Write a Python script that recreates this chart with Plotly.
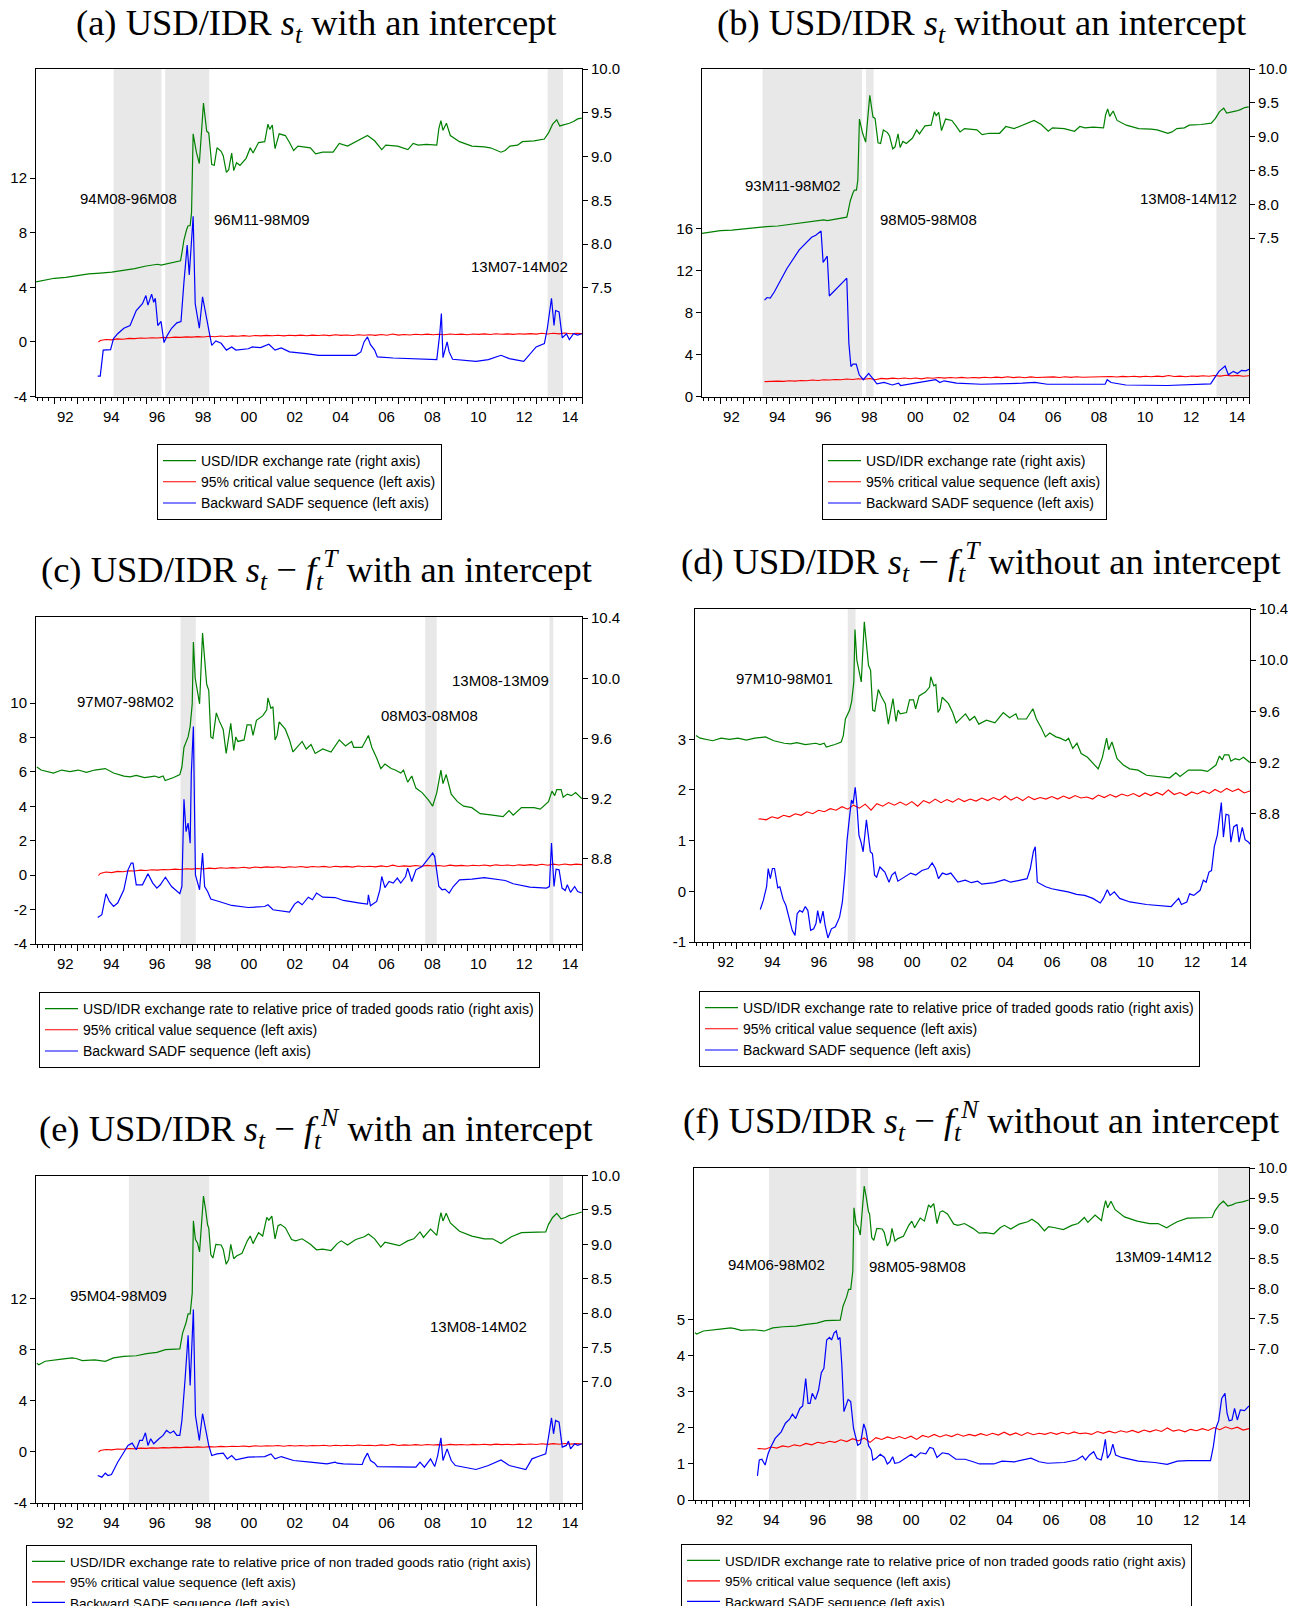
import plotly.graph_objects as go

W, H = 1297, 1606
X_RANGE = [1991.2, 2015.0]

# ---------------- data (decimal year, value) ----------------
GREEN_S = [(1991.2, 7.57), (1991.6, 7.59), (1992.0, 7.61), (1992.5, 7.62), (1993.0, 7.64), (1993.5, 7.66),
           (1994.0, 7.67), (1994.5, 7.68), (1995.0, 7.70), (1995.5, 7.72), (1996.0, 7.75), (1996.5, 7.77),
           (1996.65, 7.76), (1997.0, 7.78), (1997.5, 7.81), (1997.56, 7.90), (1997.65, 8.05), (1997.77, 8.17),
           (1997.83, 8.21), (1997.92, 8.21), (1997.98, 8.36), (1998.05, 9.26), (1998.19, 9.05), (1998.32, 8.92),
           (1998.5, 9.61), (1998.64, 9.29), (1998.73, 9.27), (1998.86, 8.91), (1998.97, 8.90), (1999.09, 9.10),
           (1999.27, 9.06), (1999.36, 9.01), (1999.5, 8.82), (1999.6, 8.85), (1999.73, 9.04), (1999.82, 8.84),
           (1999.94, 8.93), (2000.09, 8.90), (2000.36, 8.98), (2000.54, 9.10), (2000.66, 9.04), (2000.9, 9.16),
           (2001.17, 9.17), (2001.31, 9.37), (2001.39, 9.31), (2001.5, 9.36), (2001.62, 9.09), (2001.8, 9.26),
           (2002.07, 9.24), (2002.25, 9.16), (2002.43, 9.07), (2002.62, 9.12), (2002.89, 9.11), (2003.16, 9.10),
           (2003.39, 9.03), (2003.7, 9.05), (2004.15, 9.05), (2004.42, 9.15), (2004.78, 9.12), (2005.24, 9.18),
           (2005.65, 9.24), (2005.96, 9.18), (2006.27, 9.08), (2006.45, 9.13), (2006.96, 9.12), (2007.41, 9.08),
           (2007.64, 9.15), (2007.86, 9.13), (2008.22, 9.14), (2008.67, 9.13), (2008.76, 9.32), (2008.85, 9.41),
           (2008.94, 9.30), (2009.09, 9.38), (2009.26, 9.24), (2009.66, 9.17), (2010.2, 9.12), (2010.74, 9.11),
           (2011.0, 9.10), (2011.47, 9.05), (2011.65, 9.07), (2011.86, 9.12), (2012.19, 9.13), (2012.4, 9.17),
           (2012.91, 9.18), (2013.36, 9.20), (2013.54, 9.27), (2013.72, 9.37), (2013.9, 9.42), (2014.03, 9.35),
           (2014.21, 9.36), (2014.45, 9.38), (2014.63, 9.40), (2014.81, 9.43), (2014.99, 9.44)]

GREEN_T = [(1991.24, 9.41), (1991.42, 9.39), (1991.96, 9.37), (1992.32, 9.39), (1992.68, 9.38), (1993.04, 9.39),
           (1993.4, 9.375), (1993.76, 9.39), (1994.22, 9.40), (1994.58, 9.37), (1995.03, 9.35), (1995.3, 9.345),
           (1995.57, 9.355), (1995.93, 9.34), (1996.38, 9.35), (1996.56, 9.34), (1996.74, 9.35), (1996.83, 9.32),
           (1997.2, 9.34), (1997.47, 9.36), (1997.56, 9.41), (1997.65, 9.54), (1997.83, 9.61), (1997.92, 9.68),
           (1998.01, 9.83), (1998.06, 10.24), (1998.14, 10.0), (1998.24, 9.91), (1998.33, 9.83), (1998.46, 10.3),
           (1998.55, 10.14), (1998.64, 9.96), (1998.73, 9.92), (1998.82, 9.61), (1998.91, 9.60), (1999.06, 9.77),
           (1999.18, 9.72), (1999.36, 9.66), (1999.49, 9.50), (1999.6, 9.61), (1999.69, 9.70), (1999.82, 9.52),
           (1999.91, 9.61), (2000.0, 9.58), (2000.27, 9.59), (2000.4, 9.69), (2000.57, 9.69), (2000.66, 9.62),
           (2000.81, 9.72), (2001.08, 9.75), (2001.26, 9.79), (2001.31, 9.87), (2001.44, 9.80), (2001.53, 9.81),
           (2001.62, 9.59), (2001.71, 9.62), (2001.8, 9.71), (2002.07, 9.66), (2002.25, 9.59), (2002.4, 9.51),
           (2002.62, 9.55), (2002.8, 9.58), (2002.98, 9.53), (2003.19, 9.56), (2003.37, 9.50), (2003.7, 9.53),
           (2004.06, 9.51), (2004.42, 9.59), (2004.69, 9.55), (2004.96, 9.58), (2005.05, 9.54), (2005.41, 9.54),
           (2005.69, 9.62), (2005.84, 9.54), (2006.05, 9.47), (2006.23, 9.40), (2006.41, 9.43), (2006.68, 9.40),
           (2006.86, 9.39), (2007.1, 9.37), (2007.22, 9.39), (2007.4, 9.31), (2007.58, 9.35), (2007.76, 9.27),
           (2008.03, 9.24), (2008.31, 9.19), (2008.49, 9.15), (2008.67, 9.24), (2008.85, 9.39), (2008.94, 9.30),
           (2009.08, 9.36), (2009.3, 9.23), (2009.57, 9.18), (2009.84, 9.15), (2010.2, 9.14), (2010.56, 9.10),
           (2011.1, 9.09), (2011.56, 9.08), (2011.82, 9.12), (2012.0, 9.09), (2012.36, 9.14), (2012.91, 9.14),
           (2013.18, 9.13), (2013.54, 9.18), (2013.69, 9.25), (2013.81, 9.22), (2013.9, 9.26), (2014.09, 9.26),
           (2014.18, 9.21), (2014.36, 9.23), (2014.54, 9.22), (2014.72, 9.24), (2014.99, 9.20)]

GREEN_N = [(1991.24, 7.27), (1991.32, 7.25), (1991.6, 7.30), (1991.96, 7.32), (1992.32, 7.33), (1992.77, 7.35),
           (1992.95, 7.34), (1993.22, 7.31), (1993.76, 7.32), (1994.22, 7.30), (1994.58, 7.35), (1995.03, 7.37),
           (1995.57, 7.38), (1996.02, 7.41), (1996.47, 7.43), (1996.84, 7.47), (1997.2, 7.47), (1997.47, 7.48),
           (1997.59, 7.71), (1997.74, 7.86), (1997.83, 7.99), (1997.92, 7.99), (1998.01, 8.29), (1998.06, 9.34),
           (1998.15, 9.07), (1998.24, 9.02), (1998.33, 8.89), (1998.41, 9.27), (1998.5, 9.70), (1998.59, 9.51),
           (1998.68, 9.28), (1998.73, 9.24), (1998.82, 8.85), (1998.91, 8.80), (1999.04, 9.0), (1999.27, 8.99),
           (1999.36, 8.93), (1999.49, 8.71), (1999.6, 8.78), (1999.69, 9.0), (1999.82, 8.79), (1999.94, 8.83),
           (2000.18, 8.87), (2000.41, 9.05), (2000.54, 9.12), (2000.66, 9.01), (2000.9, 9.17), (2001.08, 9.12),
           (2001.26, 9.39), (2001.35, 9.35), (2001.48, 9.41), (2001.62, 9.08), (2001.75, 9.27), (2001.86, 9.29),
           (2002.07, 9.24), (2002.34, 9.07), (2002.52, 9.05), (2002.8, 9.08), (2003.16, 9.0), (2003.43, 8.92),
           (2003.7, 8.93), (2004.06, 8.91), (2004.33, 9.01), (2004.51, 9.05), (2004.78, 8.99), (2005.14, 9.07),
           (2005.51, 9.11), (2005.69, 9.15), (2005.96, 9.08), (2006.23, 8.96), (2006.41, 9.03), (2006.68, 9.01),
           (2007.04, 8.98), (2007.4, 9.05), (2007.67, 9.08), (2007.94, 9.18), (2008.09, 9.10), (2008.4, 9.22),
           (2008.67, 9.13), (2008.76, 9.31), (2008.85, 9.46), (2008.94, 9.34), (2009.08, 9.45), (2009.26, 9.31),
           (2009.66, 9.19), (2010.2, 9.12), (2010.74, 9.08), (2011.1, 9.08), (2011.47, 9.01), (2011.65, 9.05),
           (2011.92, 9.11), (2012.36, 9.17), (2012.91, 9.18), (2013.42, 9.18), (2013.54, 9.29), (2013.72, 9.39),
           (2013.9, 9.45), (2014.09, 9.37), (2014.27, 9.39), (2014.45, 9.42), (2014.72, 9.44), (2014.99, 9.47)]

CV_TIMES = [1993.92] + [1994.0 + 0.25 * i for i in range(85)]
CV_WITH = [-0.02, 0.10, 0.18, 0.15, 0.22, 0.20, 0.26, 0.24, 0.29, 0.27, 0.31, 0.29, 0.33, 0.31, 0.35, 0.33,
           0.37, 0.35, 0.39, 0.36, 0.41, 0.38, 0.43, 0.40, 0.44, 0.42, 0.46, 0.41, 0.47, 0.44, 0.48, 0.45,
           0.49, 0.44, 0.49, 0.46, 0.50, 0.45, 0.50, 0.47, 0.51, 0.46, 0.52, 0.48, 0.51, 0.47, 0.53, 0.49,
           0.52, 0.48, 0.54, 0.49, 0.58, 0.50, 0.54, 0.51, 0.56, 0.52, 0.57, 0.53, 0.56, 0.52, 0.58, 0.54,
           0.57, 0.53, 0.58, 0.55, 0.59, 0.54, 0.60, 0.56, 0.59, 0.55, 0.60, 0.57, 0.61, 0.57, 0.63, 0.58,
           0.64, 0.59, 0.65, 0.60, 0.64, 0.61]
CV_WITHOUT = [1.42, 1.43, 1.41, 1.47, 1.44, 1.50, 1.47, 1.53, 1.50, 1.57, 1.53, 1.60, 1.57, 1.63, 1.60, 1.67,
              1.62, 1.70, 1.64, 1.72, 1.60, 1.73, 1.68, 1.75, 1.70, 1.76, 1.70, 1.77, 1.68, 1.79, 1.74, 1.82,
              1.75, 1.81, 1.76, 1.83, 1.77, 1.82, 1.78, 1.84, 1.79, 1.85, 1.80, 1.88, 1.80, 1.86, 1.79, 1.87,
              1.81, 1.85, 1.82, 1.87, 1.82, 1.88, 1.83, 1.89, 1.84, 1.86, 1.82, 1.90, 1.85, 1.91, 1.86, 1.92,
              1.88, 1.93, 1.87, 1.94, 1.89, 1.95, 1.90, 2.00, 1.91, 1.95, 1.89, 1.96, 1.92, 1.98, 1.93, 2.01,
              1.95, 2.03, 1.97, 2.02, 1.94, 1.98]

BSADF_A = [(1993.89, -2.5), (1994.0, -2.5), (1994.13, -0.6), (1994.45, -0.56), (1994.58, 0.25), (1994.76, 0.6),
           (1995.03, 1.0), (1995.3, 1.2), (1995.57, 2.3), (1995.84, 2.8), (1995.99, 3.4), (1996.08, 2.7),
           (1996.24, 3.5), (1996.33, 2.9), (1996.4, 3.2), (1996.51, 1.2), (1996.65, 1.5), (1996.78, -0.05),
           (1996.93, 0.5), (1997.11, 1.0), (1997.34, 1.4), (1997.52, 1.5), (1997.65, 4.4), (1997.79, 7.1),
           (1997.88, 4.9), (1998.05, 9.2), (1998.14, 2.8), (1998.32, 1.0), (1998.46, 3.3), (1998.59, 2.2),
           (1998.73, 1.0), (1998.86, -0.25), (1999.04, 0.07), (1999.27, -0.1), (1999.5, -0.6), (1999.73, -0.37),
           (1999.91, -0.6), (2000.45, -0.5), (2000.63, -0.37), (2000.99, -0.42), (2001.35, -0.17), (2001.62, -0.6),
           (2001.89, -0.44), (2002.25, -0.73), (2002.98, -0.86), (2003.52, -0.98), (2004.24, -0.98), (2005.14, -0.98),
           (2005.36, -0.73), (2005.5, 0.0), (2005.65, 0.37), (2005.78, -0.2), (2005.96, -0.6), (2006.08, -1.1),
           (2006.77, -1.18), (2007.67, -1.22), (2008.67, -1.3), (2008.8, 0.6), (2008.87, 2.08), (2008.94, -1.15),
           (2009.12, 0.0), (2009.21, -0.73), (2009.36, -1.27), (2010.38, -1.42), (2010.92, -1.3), (2011.47, -0.98),
           (2011.83, -1.22), (2012.46, -1.42), (2012.73, -0.86), (2013.0, -0.37), (2013.36, -0.12), (2013.49, 1.0),
           (2013.67, 3.2), (2013.78, 1.2), (2013.85, 2.3), (2014.0, 2.2), (2014.14, 0.3), (2014.32, 0.6),
           (2014.45, 0.17), (2014.63, 0.6), (2014.81, 0.5), (2014.99, 0.6)]

BSADF_B = [(1993.92, 9.2), (1994.03, 9.45), (1994.17, 9.4), (1994.35, 10.0), (1994.89, 12.2), (1995.43, 14.0),
           (1995.97, 15.2), (1996.15, 15.4), (1996.38, 15.8), (1996.47, 12.8), (1996.65, 13.4), (1996.74, 9.6),
           (1997.5, 11.3), (1997.59, 5.1), (1997.68, 2.86), (1997.77, 3.1), (1997.91, 3.1), (1998.04, 2.07),
           (1998.22, 1.6), (1998.45, 2.2), (1998.67, 1.6), (1998.81, 1.2), (1999.12, 1.34), (1999.48, 1.1),
           (1999.75, 1.27), (1999.84, 1.05), (2000.47, 1.27), (2000.92, 1.43), (2001.37, 1.6), (2001.55, 1.34),
           (2001.73, 1.5), (2002.27, 1.27), (2003.35, 1.17), (2005.14, 1.27), (2005.68, 1.34), (2006.22, 1.17),
           (2008.74, 1.17), (2008.83, 1.6), (2009.0, 1.34), (2009.64, 1.1), (2011.44, 1.05), (2013.33, 1.2),
           (2013.69, 2.4), (2013.96, 2.9), (2014.1, 2.07), (2014.32, 2.4), (2014.5, 2.2), (2014.68, 2.5),
           (2014.86, 2.45), (2015.0, 2.6)]

BSADF_C = [(1993.89, -2.46), (1994.07, -2.3), (1994.25, -1.08), (1994.4, -1.53), (1994.58, -1.82), (1994.76, -1.62),
           (1995.03, -0.85), (1995.21, 0.31), (1995.35, 0.7), (1995.43, 0.7), (1995.57, -0.56), (1995.84, -0.56),
           (1996.08, 0.08), (1996.29, -0.46), (1996.47, -0.75), (1996.62, -0.56), (1996.84, -0.12), (1997.11, -0.66),
           (1997.47, -1.08), (1997.56, -0.66), (1997.65, 4.41), (1997.74, 2.53), (1997.83, 3.02), (1997.92, 1.86),
           (1997.97, 5.9), (1998.06, 8.63), (1998.15, 0.02), (1998.33, -0.85), (1998.46, 1.28), (1998.55, -0.66),
           (1998.68, -0.95), (1998.82, -1.39), (1999.18, -1.53), (1999.73, -1.76), (2000.45, -1.88), (2001.17, -1.82),
           (2001.31, -1.72), (2001.53, -2.01), (2002.25, -2.15), (2002.47, -1.68), (2002.62, -1.53), (2002.8, -1.72),
           (2003.07, -1.28), (2003.25, -1.43), (2003.43, -1.04), (2003.7, -1.28), (2004.24, -1.3), (2004.6, -1.47),
           (2005.32, -1.62), (2005.65, -1.68), (2005.69, -1.14), (2005.78, -1.78), (2006.05, -1.53), (2006.19, -0.85),
           (2006.27, -0.08), (2006.41, -0.72), (2006.59, -0.37), (2006.77, -0.46), (2006.95, -0.17), (2007.1, -0.46),
           (2007.31, -0.08), (2007.4, 0.41), (2007.58, -0.37), (2007.76, 0.31), (2008.03, 0.5), (2008.31, 0.99),
           (2008.49, 1.28), (2008.58, 1.08), (2008.76, -0.66), (2008.9, -0.85), (2009.03, -0.81), (2009.21, -1.04),
           (2009.39, -0.66), (2009.66, -0.27), (2010.2, -0.23), (2010.74, -0.14), (2011.29, -0.23), (2011.65, -0.31),
           (2012.0, -0.5), (2012.73, -0.7), (2013.45, -0.75), (2013.58, -0.66), (2013.67, 1.86), (2013.78, -0.66),
           (2013.87, 0.35), (2014.0, 0.31), (2014.13, -0.75), (2014.27, -0.89), (2014.36, -0.56), (2014.5, -1.0),
           (2014.68, -0.66), (2014.81, -0.95), (2014.99, -1.04)]

BSADF_D = [(1994.0, -0.36), (1994.13, -0.18), (1994.27, 0.09), (1994.34, 0.45), (1994.43, 0.25), (1994.52, 0.45),
           (1994.61, 0.45), (1994.75, 0.07), (1994.84, 0.09), (1994.98, -0.16), (1995.1, -0.28), (1995.28, -0.64),
           (1995.37, -0.77), (1995.49, -0.87), (1995.58, -0.44), (1995.69, -0.38), (1995.81, -0.41), (1995.93, -0.3),
           (1996.04, -0.38), (1996.16, -0.77), (1996.29, -0.74), (1996.39, -0.63), (1996.46, -0.38), (1996.57, -0.63),
           (1996.69, -0.39), (1996.78, -0.67), (1996.9, -0.92), (1997.05, -0.74), (1997.22, -0.7), (1997.4, -0.51),
           (1997.52, -0.21), (1997.63, 0.35), (1997.72, 1.0), (1997.81, 1.4), (1997.91, 1.8), (1997.98, 1.73),
           (1998.07, 2.05), (1998.14, 1.73), (1998.23, 1.11), (1998.32, 0.97), (1998.41, 0.78), (1998.55, 1.41),
           (1998.64, 1.0), (1998.72, 0.78), (1998.81, 0.74), (1998.9, 0.32), (1998.99, 0.28), (1999.13, 0.48),
           (1999.34, 0.38), (1999.52, 0.18), (1999.64, 0.32), (1999.78, 0.38), (1999.9, 0.2), (2000.13, 0.27),
           (2000.45, 0.36), (2000.67, 0.32), (2000.93, 0.41), (2001.2, 0.45), (2001.37, 0.56), (2001.51, 0.45),
           (2001.64, 0.25), (2001.81, 0.36), (2001.99, 0.33), (2002.17, 0.36), (2002.47, 0.18), (2002.79, 0.22),
           (2003.05, 0.17), (2003.32, 0.2), (2003.5, 0.14), (2004.03, 0.17), (2004.47, 0.23), (2004.73, 0.18),
           (2005.17, 0.23), (2005.44, 0.25), (2005.58, 0.45), (2005.71, 0.78), (2005.79, 0.88), (2005.88, 0.18),
           (2006.24, 0.09), (2006.5, 0.05), (2006.85, 0.02), (2007.2, -0.01), (2007.56, -0.06), (2007.91, -0.08),
           (2008.26, -0.14), (2008.58, -0.23), (2008.71, -0.14), (2008.88, 0.03), (2009.0, -0.08), (2009.18, -0.01),
           (2009.41, -0.14), (2009.85, -0.21), (2010.56, -0.26), (2011.27, -0.28), (2011.62, -0.3), (2011.8, -0.21),
           (2011.94, -0.14), (2012.06, -0.26), (2012.29, -0.21), (2012.41, -0.05), (2012.59, -0.08), (2012.86, 0.02),
           (2013.0, 0.22), (2013.12, 0.18), (2013.24, 0.38), (2013.35, 0.41), (2013.47, 0.88), (2013.6, 1.11),
           (2013.77, 1.75), (2013.86, 1.07), (2013.97, 1.52), (2014.09, 1.5), (2014.18, 0.97), (2014.3, 1.27),
           (2014.44, 1.32), (2014.53, 0.97), (2014.67, 1.26), (2014.79, 1.02), (2014.94, 0.97), (2015.0, 0.93)]

BSADF_E = [(1993.89, -1.85), (1994.07, -1.98), (1994.22, -1.67), (1994.34, -1.85), (1994.49, -1.77), (1994.76, -0.81),
           (1995.03, -0.03), (1995.21, 0.5), (1995.39, 0.68), (1995.57, 0.16), (1995.72, 0.89), (1995.84, 0.89),
           (1995.97, 1.49), (1996.08, 0.5), (1996.2, 1.02), (1996.33, 0.63), (1996.56, 1.02), (1996.74, 1.28),
           (1996.89, 1.67), (1997.05, 1.46), (1997.2, 1.62), (1997.34, 1.28), (1997.47, 1.28), (1997.56, 2.45),
           (1997.7, 5.72), (1997.83, 9.11), (1997.92, 5.19), (1998.06, 11.12), (1998.15, 2.85), (1998.32, 0.89),
           (1998.46, 2.98), (1998.59, 1.8), (1998.73, 0.5), (1998.86, -0.29), (1999.09, -0.16), (1999.36, -0.1),
           (1999.54, -0.55), (1999.73, -0.29), (1999.91, -0.63), (2000.45, -0.42), (2000.81, -0.37), (2001.17, -0.37),
           (2001.44, -0.16), (2001.62, -0.55), (2001.89, -0.37), (2002.43, -0.68), (2003.16, -0.81), (2003.88, -0.94),
           (2004.24, -0.81), (2004.33, -0.89), (2004.6, -0.94), (2005.42, -0.99), (2005.51, -0.55), (2005.65, -0.1),
           (2005.78, -0.68), (2005.96, -0.89), (2006.08, -1.15), (2006.95, -1.2), (2007.76, -1.2), (2007.94, -0.81),
           (2008.13, -1.2), (2008.4, -0.55), (2008.58, -1.15), (2008.71, -0.29), (2008.85, 1.1), (2008.94, -0.68),
           (2009.12, 0.23), (2009.3, -0.68), (2009.48, -1.07), (2010.38, -1.38), (2010.92, -1.07), (2011.47, -0.63),
           (2011.83, -1.07), (2012.55, -1.38), (2012.82, -0.55), (2013.09, -0.37), (2013.42, -0.16), (2013.54, 1.15),
           (2013.67, 2.66), (2013.76, 1.41), (2013.85, 2.45), (2014.0, 2.32), (2014.14, 0.37), (2014.32, 0.5),
           (2014.41, 0.84), (2014.5, 0.23), (2014.68, 0.63), (2014.81, 0.5), (2014.99, 0.63)]

BSADF_F = [(1993.92, 0.67), (1994.0, 1.11), (1994.11, 1.13), (1994.25, 0.97), (1994.38, 1.29), (1994.5, 1.48),
           (1994.68, 1.71), (1994.94, 1.89), (1995.12, 2.13), (1995.3, 2.24), (1995.42, 2.38), (1995.56, 2.26),
           (1995.74, 2.54), (1995.86, 2.61), (1995.99, 3.37), (1996.09, 2.68), (1996.18, 2.68), (1996.27, 2.96),
           (1996.41, 2.79), (1996.54, 3.05), (1996.66, 3.53), (1996.77, 3.65), (1996.89, 4.44), (1997.01, 4.51),
           (1997.1, 4.44), (1997.21, 4.64), (1997.3, 4.69), (1997.38, 4.45), (1997.46, 4.51), (1997.54, 3.74),
           (1997.63, 2.45), (1997.72, 2.63), (1997.81, 2.79), (1997.92, 2.73), (1998.04, 1.99), (1998.22, 1.52),
           (1998.34, 1.57), (1998.48, 2.11), (1998.57, 1.94), (1998.69, 1.5), (1998.8, 1.39), (1998.87, 1.11),
           (1999.01, 1.16), (1999.19, 1.27), (1999.37, 1.18), (1999.49, 1.0), (1999.6, 1.06), (1999.72, 1.2),
           (1999.81, 1.02), (1999.99, 1.04), (2000.25, 1.16), (2000.52, 1.27), (2000.69, 1.18), (2000.91, 1.31),
           (2001.14, 1.28), (2001.31, 1.46), (2001.46, 1.43), (2001.62, 1.18), (2001.85, 1.31), (2002.11, 1.28),
           (2002.43, 1.13), (2002.82, 1.13), (2003.17, 1.06), (2003.44, 1.0), (2004.06, 1.0), (2004.41, 1.08),
           (2004.94, 1.06), (2005.65, 1.16), (2006.0, 1.06), (2006.36, 1.02), (2007.07, 1.04), (2007.6, 1.11),
           (2007.86, 1.22), (2007.99, 1.11), (2008.16, 1.25), (2008.34, 1.34), (2008.48, 1.16), (2008.66, 1.11),
           (2008.75, 1.34), (2008.84, 1.68), (2008.93, 1.16), (2009.05, 1.28), (2009.16, 1.55), (2009.28, 1.25),
           (2009.54, 1.18), (2010.25, 1.08), (2010.96, 1.04), (2011.49, 0.99), (2011.93, 1.08), (2012.38, 1.09),
           (2013.35, 1.09), (2013.47, 1.48), (2013.58, 1.99), (2013.7, 2.2), (2013.83, 2.82), (2013.97, 2.96),
           (2014.06, 2.4), (2014.15, 2.2), (2014.27, 2.22), (2014.38, 2.54), (2014.5, 2.22), (2014.63, 2.5),
           (2014.81, 2.48), (2015.0, 2.61)]

LEG_S = ["USD/IDR exchange rate (right axis)", "95% critical value sequence (left axis)",
         "Backward SADF sequence (left axis)"]
LEG_T = ["USD/IDR exchange rate to relative price of traded goods ratio (right axis)",
         "95% critical value sequence (left axis)", "Backward SADF sequence (left axis)"]
LEG_N = ["USD/IDR exchange rate to relative price of non traded goods ratio (right axis)",
         "95% critical value sequence (left axis)", "Backward SADF sequence (left axis)"]

ST = "<i>s</i><sub><i>t</i></sub>"
FT = "<i>f</i><sub><i>t</i></sub><sup><i>T</i></sup>"
FN = "<i>f</i><sub><i>t</i></sub><sup><i>N</i></sup>"

PANELS = [
    dict(title=f"(a) USD/IDR {ST} with an intercept", tpos=(316, 26),
         frame=(36, 582, 69, 396.5), lrange=[-4, 20], lticks=[-4, 0, 4, 8, 12],
         rrange=[6.26, 10.0], rticks=[7.5, 8.0, 8.5, 9.0, 9.5, 10.0],
         green=GREEN_S, cv=CV_WITH, blue=BSADF_A, legend=LEG_S, lpos=(157, 444), lfont=14,
         shades=[("94M08", "96M08"), ("96M11", "98M09"), ("13M07", "14M02")],
         labels=[("94M08-96M08", 1995.23, 10.5), ("96M11-98M09", 2001.06, 9.0), ("13M07-14M02", 2012.28, 5.51)]),
    dict(title=f"(b) USD/IDR {ST} without an intercept", tpos=(981, 26),
         frame=(702, 1249, 69, 396.5), lrange=[0, 31.27], lticks=[0, 4, 8, 12, 16],
         rrange=[5.16, 10.0], rticks=[7.5, 8.0, 8.5, 9.0, 9.5, 10.0],
         green=GREEN_S, cv=CV_WITHOUT, blue=BSADF_B, legend=LEG_S, lpos=(822, 444), lfont=14,
         shades=[("93M11", "98M02"), ("98M05", "98M08"), ("13M08", "14M12")],
         labels=[("93M11-98M02", 1995.16, 20.13), ("98M05-98M08", 2001.06, 16.86), ("13M08-14M12", 2012.36, 18.86)]),
    dict(title=f"(c) USD/IDR {ST} − {FT} with an intercept", tpos=(316, 570),
         frame=(36, 582, 617, 944), lrange=[-4, 15.0], lticks=[-4, -2, 0, 2, 4, 6, 8, 10],
         rrange=[8.234, 10.407], rticks=[8.8, 9.2, 9.6, 10.0, 10.4],
         green=GREEN_T, cv=CV_WITH, blue=BSADF_C, legend=LEG_T, lpos=(39, 992), lfont=14,
         shades=[("97M07", "98M02"), ("08M03", "08M08"), ("13M08", "13M09")],
         labels=[("97M07-98M02", 1995.08, 10.08), ("08M03-08M08", 2008.34, 9.25), ("13M08-13M09", 2011.45, 11.3)]),
    dict(title=f"(d) USD/IDR {ST} − {FT} without an intercept", tpos=(981, 562),
         frame=(695, 1250, 609, 942), lrange=[-1, 5.57], lticks=[-1, 0, 1, 2, 3],
         rrange=[7.796, 10.4], rticks=[8.8, 9.2, 9.6, 10.0, 10.4],
         green=GREEN_T, cv=CV_WITHOUT, blue=BSADF_D, legend=LEG_T, lpos=(699, 991), lfont=14,
         shades=[("97M10", "98M01")],
         labels=[("97M10-98M01", 1995.05, 4.2)]),
    dict(title=f"(e) USD/IDR {ST} − {FN} with an intercept", tpos=(316, 1129),
         frame=(36, 582, 1175.5, 1503), lrange=[-4, 21.6], lticks=[-4, 0, 4, 8, 12],
         rrange=[5.24, 10.0], rticks=[7.0, 7.5, 8.0, 8.5, 9.0, 9.5, 10.0],
         green=GREEN_N, cv=CV_WITH, blue=BSADF_E, legend=LEG_N, lpos=(26, 1545), lfont=13.5,
         shades=[("95M04", "98M09"), ("13M08", "14M02")],
         labels=[("95M04-98M09", 1994.81, 12.24), ("13M08-14M02", 2010.47, 9.81)]),
    dict(title=f"(f) USD/IDR {ST} − {FN} without an intercept", tpos=(981, 1121),
         frame=(694, 1249, 1168, 1500), lrange=[0, 9.21], lticks=[0, 1, 2, 3, 4, 5],
         rrange=[4.5, 10.0], rticks=[7.0, 7.5, 8.0, 8.5, 9.0, 9.5, 10.0],
         green=GREEN_N, cv=CV_WITHOUT, blue=BSADF_F, legend=LEG_N, lpos=(681, 1544), lfont=13.5,
         shades=[("94M06", "98M02"), ("98M05", "98M08"), ("13M09", "14M12")],
         labels=[("94M06-98M02", 1994.75, 6.53), ("98M05-98M08", 2000.8, 6.49), ("13M09-14M12", 2011.33, 6.75)]),
]

SANS = "Liberation Sans, Arial, sans-serif"
SERIF = "Liberation Serif, Times New Roman, serif"
GREEN, RED, BLUE = "#008000", "#ff0000", "#0000ff"
SHADE = "#e8e8e8"


def month_start(s):
    yy, mm = int(s[:2]), int(s[3:5])
    year = 1900 + yy if yy > 50 else 2000 + yy
    return year + (mm - 1) / 12.0


def fmt_left(v):
    return str(int(v)) if float(v).is_integer() else str(v)


def ax_id(letter, n):
    return letter if n == 1 else f"{letter}{n}"


fig = go.Figure()
layout = dict(width=W, height=H, margin=dict(l=0, r=0, t=0, b=0, autoexpand=False),
              paper_bgcolor="white", plot_bgcolor="white", showlegend=True,
              shapes=[], annotations=[])

years = list(range(1991, 2016))
major = [y for y in years if X_RANGE[0] <= y <= X_RANGE[1]]
minor = [y + q * 0.25 for y in years for q in (1, 2, 3) if X_RANGE[0] <= y + q * 0.25 <= X_RANGE[1]]
axfont = dict(family=SANS, size=15, color="black")

for k, p in enumerate(PANELS, start=1):
    xl, xr, yt, yb = p["frame"]
    xid, yid, y2id = ax_id("x", k), ax_id("y", k), ax_id("y", k + 6)
    xkey, ykey, y2key = ax_id("xaxis", k), ax_id("yaxis", k), ax_id("yaxis", k + 6)
    leg = "legend" if k == 1 else f"legend{k}"
    ppy = (xr - xl) / (X_RANGE[1] - X_RANGE[0])

    layout[xkey] = dict(
        domain=[xl / W, xr / W], range=X_RANGE, anchor=yid,
        tickmode="array", tickvals=major,
        ticktext=[f"{y % 100:02d}" if y % 2 == 0 and y < 2015 else "" for y in major],
        ticks="outside", ticklen=6, tickwidth=1, tickcolor="black",
        ticklabelshift=int(round(ppy / 2)),
        minor=dict(tickmode="array", tickvals=minor, ticks="outside", ticklen=3,
                   tickwidth=1, tickcolor="black", showgrid=False),
        showline=True, linecolor="black", linewidth=1, mirror=True,
        showgrid=False, zeroline=False, tickfont=axfont)
    layout[ykey] = dict(
        domain=[1 - yb / H, 1 - yt / H], range=p["lrange"], anchor=xid,
        tickmode="array", tickvals=p["lticks"], ticktext=[fmt_left(v) for v in p["lticks"]],
        ticks="outside", ticklen=5, tickcolor="black",
        showline=True, linecolor="black", linewidth=1, mirror=True,
        showgrid=False, zeroline=False, tickfont=axfont)
    layout[y2key] = dict(
        overlaying=yid, side="right", anchor=xid, range=p["rrange"],
        tickmode="array", tickvals=p["rticks"], ticktext=[f"{v:.1f}" for v in p["rticks"]],
        ticks="outside", ticklen=5, tickcolor="black",
        showline=False, showgrid=False, zeroline=False, tickfont=axfont)

    lx, ly = p["lpos"]
    layout[leg] = dict(x=lx / W, y=1 - ly / H, xanchor="left", yanchor="top",
                       bgcolor="white", bordercolor="black", borderwidth=1,
                       font=dict(family=SANS, size=p["lfont"], color="black"),
                       itemwidth=33, tracegroupgap=0)

    gx, gy = zip(*p["green"])
    fig.add_trace(go.Scatter(x=list(gx), y=list(gy), xaxis=xid, yaxis=y2id, mode="lines",
                             line=dict(color=GREEN, width=1.2), name=p["legend"][0], legend=leg))
    fig.add_trace(go.Scatter(x=CV_TIMES, y=p["cv"], xaxis=xid, yaxis=yid, mode="lines",
                             line=dict(color=RED, width=1.1), name=p["legend"][1], legend=leg))
    bx, by = zip(*p["blue"])
    fig.add_trace(go.Scatter(x=list(bx), y=list(by), xaxis=xid, yaxis=yid, mode="lines",
                             line=dict(color=BLUE, width=1.2), name=p["legend"][2], legend=leg))

    for a, b in p["shades"]:
        layout["shapes"].append(dict(type="rect", xref=xid, yref=f"{yid} domain",
                                     x0=month_start(a), x1=month_start(b) + 1 / 12.0, y0=0, y1=1,
                                     fillcolor=SHADE, line=dict(width=0), layer="below"))
    for text, tx, ty in p["labels"]:
        layout["annotations"].append(dict(text=text, x=tx, y=ty, xref=xid, yref=yid, showarrow=False,
                                          font=dict(family=SANS, size=15, color="black")))
    cx, cy = p["tpos"]
    layout["annotations"].append(dict(text=p["title"], x=cx / W, y=1 - cy / H, xref="paper", yref="paper",
                                      xanchor="center", yanchor="middle", showarrow=False,
                                      font=dict(family=SERIF, size=36.5, color="black")))

fig.update_layout(**layout)
fig.write_html("out.html")
